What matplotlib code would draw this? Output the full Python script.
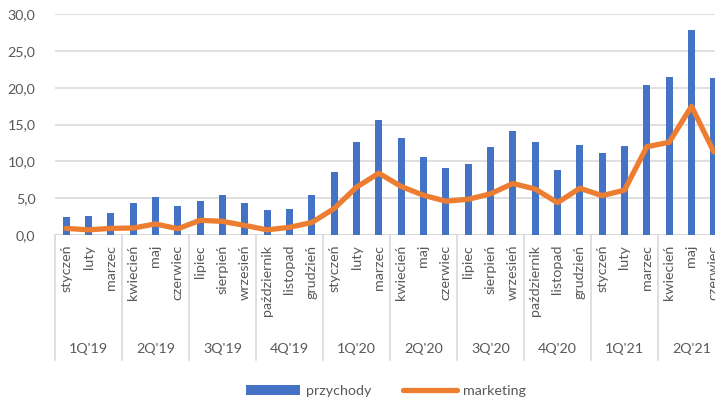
import matplotlib.pyplot as plt
import matplotlib.transforms as mtransforms
from matplotlib.lines import Line2D
from matplotlib.patches import Patch
import numpy as np

months = ['styczeń', 'luty', 'marzec', 'kwiecień', 'maj', 'czerwiec',
          'lipiec', 'sierpień', 'wrzesień', 'październik', 'listopad', 'grudzień'] * 2 + \
         ['styczeń', 'luty', 'marzec', 'kwiecień', 'maj', 'czerwiec']
quarters = ["1Q'19", "2Q'19", "3Q'19", "4Q'19", "1Q'20", "2Q'20",
            "3Q'20", "4Q'20", "1Q'21", "2Q'21"]

przychody = [2.4, 2.6, 3.0, 4.4, 5.1, 3.9, 4.6, 5.4, 4.3, 3.4, 3.6, 5.4,
             8.5, 12.7, 15.6, 13.2, 10.6, 9.1, 9.7, 11.9, 14.1, 12.6, 8.9, 12.3,
             11.1, 12.1, 20.4, 21.5, 27.9, 21.4]
marketing = [0.9, 0.7, 0.9, 0.95, 1.5, 0.85, 2.0, 1.85, 1.3, 0.7, 1.05, 1.7,
             3.6, 6.5, 8.4, 6.6, 5.4, 4.6, 4.85, 5.6, 7.0, 6.25, 4.4, 6.35,
             5.35, 6.1, 12.0, 12.6, 17.5, 11.3]

BLUE = '#4472C4'
ORANGE = '#ED7D31'
TXT = '#595959'
GRID = '#D9D9D9'

plt.rcParams['font.family'] = ['Lato', 'DejaVu Sans']

W, H = 715, 400
fig = plt.figure(figsize=(W / 100, H / 100), dpi=100)
# plot area runs past the right edge of the canvas
left, right, bottom, top = 55 / W, 725 / W, 1 - 235 / H, 1 - 14.3 / H
ax = fig.add_axes([left, bottom, right - left, top - bottom])

x = np.arange(len(months))
ax.bar(x, przychody, width=0.31, color=BLUE, zorder=2)
ax.plot(x, marketing, color=ORANGE, lw=3.8, solid_joinstyle='round',
        solid_capstyle='round', zorder=3)

ax.set_xlim(-0.5, len(months) - 0.5)
ax.set_ylim(0, 30)
ax.set_yticks(np.arange(0, 31, 5))
ax.set_yticklabels([f'{v:.1f}'.replace('.', ',') for v in np.arange(0, 31, 5)])
ax.tick_params(axis='y', length=0, pad=14, labelsize=10.3, labelcolor=TXT)
ax.set_xticks([])
ax.grid(axis='y', color=GRID, lw=1.2, zorder=0)
for s in ax.spines.values():
    s.set_visible(False)
ax.axhline(0, color=GRID, lw=1.2, zorder=1)

# two-level category axis: months, then quarters
trans = mtransforms.blended_transform_factory(ax.transData, fig.transFigure)
for i, m in enumerate(months):
    ax.text(i, 1 - 245 / H, m, transform=trans, rotation=90, ha='center',
            va='top', fontsize=10.3, color=TXT, clip_on=False)
for q, name in enumerate(quarters):
    ax.text(q * 3 + 1, 1 - 349 / H, name, transform=trans, ha='center',
            va='center', fontsize=10.3, color=TXT, clip_on=False)
for b in np.arange(-0.5, len(months), 3):
    ax.add_line(Line2D([b, b], [1 - 235 / H, 1 - 360 / H], transform=trans,
                       color=GRID, lw=1.2, clip_on=False))

handles = [Patch(facecolor=BLUE, edgecolor='none', label='przychody'),
           Line2D([], [], color=ORANGE, lw=3.8, solid_capstyle='round', label='marketing')]
fig.legend(handles=handles, loc='center', bbox_to_anchor=(386 / W, 1 - 391 / H),
           ncol=2, frameon=False, fontsize=10.3, labelcolor=TXT,
           handlelength=3.8, handleheight=0.75, handletextpad=0.4, columnspacing=2.2)

fig.savefig('out.png', dpi=100)
